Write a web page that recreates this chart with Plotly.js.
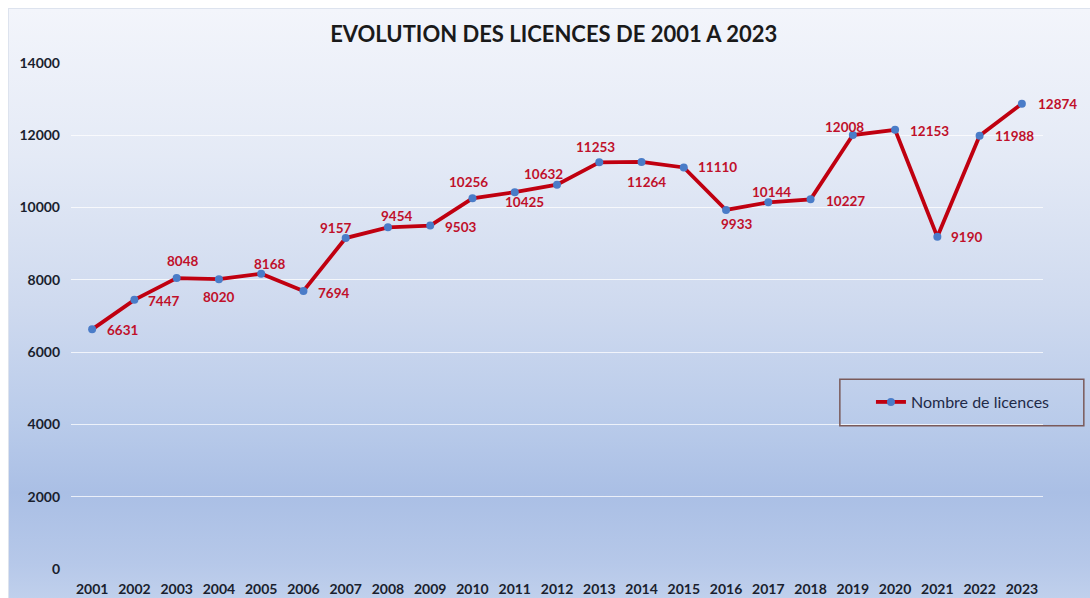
<!DOCTYPE html>
<html>
<head>
<meta charset="utf-8">
<script src="https://cdn.plot.ly/plotly-3.0.1.min.js"></script>
<style>
  html, body { margin: 0; padding: 0; background: #ffffff; }
  #wrap { position: absolute; left: 0; top: 0; width: 1090px; height: 598px; background: #ffffff; }
  #bg { position: absolute; left: 8px; top: 8px; width: 1082px; height: 590px;
        background: linear-gradient(to bottom, #f3f5fb 0%, #e4eaf6 25%, #cfdaef 50%, #b9cbea 70%, #aabfe5 82%, #b6c8e9 94%, #c0d0ec 100%);
        border-left: 1px solid #dde3ee; border-top: 1px solid #dde3ee; }
  #chart { position: absolute; left: 0; top: 0; width: 1090px; height: 598px; }
</style>
</head>
<body>
<div id="wrap"><div id="bg"></div><div id="chart"></div></div>
<script>
const years = ["2001","2002","2003","2004","2005","2006","2007","2008","2009","2010","2011","2012","2013","2014","2015","2016","2017","2018","2019","2020","2021","2022","2023"];
const licences = [6631,7447,8048,8020,8168,7694,9157,9454,9503,10256,10425,10632,11253,11264,11110,9933,10144,10227,12008,12153,9190,11988,12874];
const yTicks = [0,2000,4000,6000,8000,10000,12000,14000];
const seriesName = "Nombre de licences";
const chartTitle = "EVOLUTION DES LICENCES DE 2001 A 2023";

// label placement (style only): anchor, x shift, y shift in px
const labelAnchor = ["left","left","center","center","center","left","center","center","left","center","center","center",
  "center","center","left","center","center","left","center","left","left","left","left"];
const labelDx = [13,12,6,0,8,13,-10,9,13,-4,10,-14,-4,5,12,10,3,13,-8,13,12,13,14];
const labelDy = [-1,-1,17,-18,10,-2,10,11,-1,16,-10,11,15,-20,0,-14,10,-2,8,-1,0,0,0];

const FONT = "Lato, 'Open Sans', sans-serif";

const trace = {
  type: "scatter", mode: "lines+markers",
  x: years, y: licences, name: seriesName,
  line: {color: "#c00010", width: 3.8},
  marker: {color: "#4a7cc8", size: 8},
  cliponaxis: false
};

const annotations = licences.map((v, i) => ({
  x: i, y: v, xref: "x", yref: "y",
  text: "<b>" + v + "</b>", showarrow: false,
  xanchor: labelAnchor[i], yanchor: "middle",
  xshift: labelDx[i], yshift: labelDy[i],
  font: {family: FONT, size: 13.5, color: "#c0102a"}
}));

const layout = {
  width: 1090, height: 598,
  paper_bgcolor: "rgba(0,0,0,0)", plot_bgcolor: "rgba(0,0,0,0)",
  margin: {l: 71, r: 47, t: 63, b: 29},
  title: {text: chartTitle, x: 0.508, xref: "container", xanchor: "center",
          y: 0.943, yref: "container", yanchor: "middle",
          font: {family: FONT, size: 22, color: "#1a1a1a", weight: "bold"}},
  xaxis: {type: "category", range: [-0.5, 22.5], showgrid: false, zeroline: false, showline: false,
          ticks: "", ticklabelstandoff: 10,
          tickfont: {family: FONT, size: 14, color: "#1a1f2e", weight: "bold"}, fixedrange: true},
  yaxis: {range: [0, 14000], tickvals: yTicks, ticktext: yTicks.map(String), showgrid: true,
          gridcolor: "rgba(255,255,255,0.75)", gridwidth: 1.2, zeroline: false, showline: false,
          ticks: "", ticklabelstandoff: 10,
          tickfont: {family: FONT, size: 14, color: "#1a1f2e", weight: "bold"}, fixedrange: true},
  showlegend: true,
  legend: {x: 0.823, y: 0.33, xanchor: "left", yanchor: "middle", bgcolor: "rgba(0,0,0,0)",
           borderwidth: 0, font: {family: FONT, size: 16, color: "#1f2a48"}, itemwidth: 30},
  annotations: annotations,
  shapes: [{type: "rect", xref: "paper", yref: "paper", x0: 0.791, x1: 1.042, y0: 0.283, y1: 0.375,
            line: {color: "#7a5a5a", width: 1.5}, fillcolor: "rgba(0,0,0,0)", layer: "above"}]
};

Plotly.newPlot("chart", [trace], layout, {displayModeBar: false, staticPlot: true});
</script>
</body>
</html>
